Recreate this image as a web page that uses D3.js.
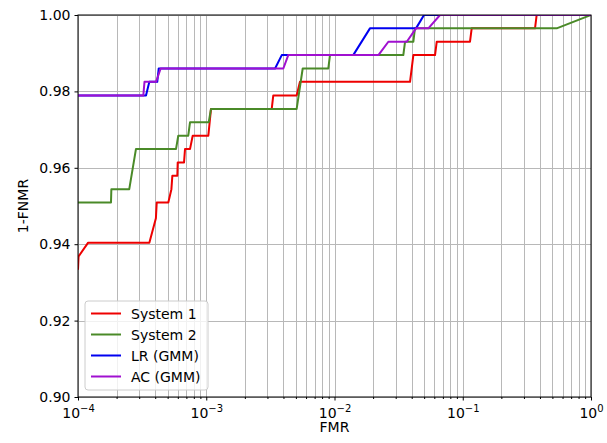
<!DOCTYPE html>
<html>
<head>
<meta charset="utf-8">
<script src="https://cdn.jsdelivr.net/npm/d3@7"></script>
<style>
  body { margin: 0; background: #fff; }
  svg { display: block; font-family: "DejaVu Sans", sans-serif; }
</style>
</head>
<body>
<svg id="chart" width="607" height="443"></svg>
<script>
// values (x = FMR, y = 1-FNMR)
const sys1Fmr = [1.0e-4, 1.01e-4, 1.20e-4, 3.60e-4, 4.05e-4, 4.11e-4, 5.06e-4, 5.35e-4, 5.44e-4, 5.95e-4, 5.99e-4, 6.71e-4, 6.83e-4, 7.47e-4, 7.84e-4, 1.038e-3, 1.089e-3, 3.24e-3, 3.33e-3, 5.07e-3, 5.38e-3, 0.0388, 0.0412, 0.0608, 0.0627, 0.1139, 0.1174, 0.366, 0.377, 1];
const sys1Val = [0.9333, 0.9368, 0.9404, 0.9404, 0.9468, 0.9509, 0.9509, 0.9544, 0.9579, 0.9579, 0.9614, 0.9614, 0.9649, 0.9649, 0.9684, 0.9684, 0.9754, 0.9754, 0.9789, 0.9789, 0.9825, 0.9825, 0.9895, 0.9895, 0.9930, 0.9930, 0.9965, 0.9965, 1.0, 1.0];

const sys2Fmr = [1.0e-4, 1.808e-4, 1.82e-4, 2.51e-4, 2.83e-4, 5.81e-4, 6.05e-4, 7.24e-4, 7.47e-4, 1.045e-3, 1.089e-3, 5.07e-3, 5.65e-3, 8.95e-3, 9.22e-3, 0.0344, 0.0355, 0.0412, 0.0424, 0.540, 1];
const sys2Val = [0.9509, 0.9509, 0.9544, 0.9544, 0.9649, 0.9649, 0.9684, 0.9684, 0.9719, 0.9719, 0.9754, 0.9754, 0.9860, 0.9860, 0.9895, 0.9895, 0.9930, 0.9930, 0.9965, 0.9965, 1.0];

const lrFmr = [1.0e-4, 3.39e-4, 3.60e-4, 4.15e-4, 4.26e-4, 3.44e-3, 3.88e-3, 0.0140, 0.0189, 0.0432, 0.0499, 1];
const lrVal = [0.9789, 0.9789, 0.9825, 0.9825, 0.9860, 0.9860, 0.9895, 0.9895, 0.9965, 0.9965, 1.0, 1.0];

const acFmr = [1.0e-4, 3.23e-4, 3.30e-4, 4.06e-4, 4.41e-4, 3.99e-3, 4.36e-3, 0.0220, 0.0263, 0.0366, 0.0432, 0.0539, 0.0665, 1];
const acVal = [0.9789, 0.9789, 0.9825, 0.9825, 0.9860, 0.9860, 0.9895, 0.9895, 0.9930, 0.9930, 0.9965, 0.9965, 1.0, 1.0];

const seriesNames = ['System 1', 'System 2', 'LR (GMM)', 'AC (GMM)'];
const seriesColors = ['#ee0000', '#4a8a28', '#0000f0', '#a010d0'];

const xMajor = [1e-4, 1e-3, 1e-2, 1e-1, 1];
const xExponents = ['\u22124', '\u22123', '\u22122', '\u22121', '0'];
const yTicks = [0.90, 0.92, 0.94, 0.96, 0.98, 1.00];

const svg = d3.select('#chart');
const margin = { top: 15, right: 16, bottom: 46, left: 78 };
const width = 607 - margin.left - margin.right;
const height = 443 - margin.top - margin.bottom;
const fontSize = 14;

const x = d3.scaleLog().domain([1e-4, 1]).range([0, width]);
const y = d3.scaleLinear().domain([0.90, 1.00]).range([height, 0]);

// minor positions 2..9 x 10^k
const xMinor = [];
for (let e = -4; e < 0; e++) {
  for (let m = 2; m <= 9; m++) xMinor.push(m * Math.pow(10, e));
}

const g = svg.append('g').attr('transform', `translate(${margin.left},${margin.top})`);

// grid
const grid = g.append('g').attr('stroke', '#b8b8b8').attr('stroke-width', 1);
grid.selectAll('line.gx')
  .data(xMajor.concat(xMinor))
  .join('line')
  .attr('x1', (d) => Math.round(x(d)) + 0.5)
  .attr('x2', (d) => Math.round(x(d)) + 0.5)
  .attr('y1', 0)
  .attr('y2', height);
grid.selectAll('line.gy')
  .data(yTicks)
  .join('line')
  .attr('class', 'gy')
  .attr('x1', 0)
  .attr('x2', width)
  .attr('y1', (d) => Math.round(y(d)) + 0.5)
  .attr('y2', (d) => Math.round(y(d)) + 0.5);

// curves
svg.append('defs').append('clipPath').attr('id', 'clip')
  .append('rect').attr('width', width).attr('height', height);

const series = [
  sys1Fmr.map((v, i) => [v, sys1Val[i]]),
  sys2Fmr.map((v, i) => [v, sys2Val[i]]),
  lrFmr.map((v, i) => [v, lrVal[i]]),
  acFmr.map((v, i) => [v, acVal[i]]),
];

const line = d3.line().x((d) => x(d[0])).y((d) => y(d[1]));

g.append('g')
  .attr('clip-path', 'url(#clip)')
  .selectAll('path')
  .data(series)
  .join('path')
  .attr('d', line)
  .attr('fill', 'none')
  .attr('stroke', (d, i) => seriesColors[i])
  .attr('stroke-width', 2)
  .attr('stroke-linejoin', 'round');

// frame
g.append('rect')
  .attr('width', width)
  .attr('height', height)
  .attr('fill', 'none')
  .attr('stroke', '#000')
  .attr('stroke-width', 1);

// x axis
const xAxis = g.append('g')
  .attr('transform', `translate(0,${height})`)
  .call(d3.axisBottom(x).tickValues(xMajor).tickSize(3.5).tickSizeOuter(0).tickFormat(() => ''));
xAxis.select('.domain').remove();
xAxis.selectAll('text').each(function (d, i) {
  const t = d3.select(this);
  t.attr('font-size', fontSize).attr('font-family', '"DejaVu Sans", sans-serif').attr('fill', '#000')
    .attr('dy', null).attr('y', 20.5);
  t.append('tspan').text('10');
  t.append('tspan').attr('font-size', 10).attr('dy', -6).text(xExponents[i]);
});

const xMinorAxis = g.append('g')
  .attr('transform', `translate(0,${height})`)
  .call(d3.axisBottom(x).tickValues(xMinor).tickSize(2).tickSizeOuter(0).tickFormat(''));
xMinorAxis.select('.domain').remove();

// y axis
const yAxis = g.append('g')
  .call(d3.axisLeft(y).tickValues(yTicks).tickSize(3.5).tickSizeOuter(0).tickPadding(4).tickFormat(d3.format('.2f')));
yAxis.select('.domain').remove();
yAxis.selectAll('text')
  .attr('font-size', fontSize)
  .attr('font-family', '"DejaVu Sans", sans-serif')
  .attr('fill', '#000');

// axis titles
svg.append('text')
  .attr('x', margin.left + width / 2)
  .attr('y', 432)
  .attr('text-anchor', 'middle')
  .attr('font-size', fontSize)
  .text('FMR');

svg.append('text')
  .attr('transform', `translate(28,${margin.top + height / 2}) rotate(-90)`)
  .attr('text-anchor', 'middle')
  .attr('font-size', fontSize)
  .text('1-FNMR');

// legend
const legend = svg.append('g').attr('transform', 'translate(85,301)');
legend.append('rect')
  .attr('width', 123)
  .attr('height', 89)
  .attr('rx', 3)
  .attr('fill', '#fff')
  .attr('fill-opacity', 0.8)
  .attr('stroke', '#cccccc');
const items = legend.selectAll('g.item')
  .data(seriesNames)
  .join('g')
  .attr('transform', (d, i) => `translate(0,${12.5 + i * 21})`);
items.append('line')
  .attr('x1', 6).attr('x2', 36)
  .attr('stroke', (d, i) => seriesColors[i])
  .attr('stroke-width', 2);
items.append('text')
  .attr('x', 46)
  .attr('y', 5)
  .attr('font-size', fontSize)
  .text((d) => d);
</script>
</body>
</html>
